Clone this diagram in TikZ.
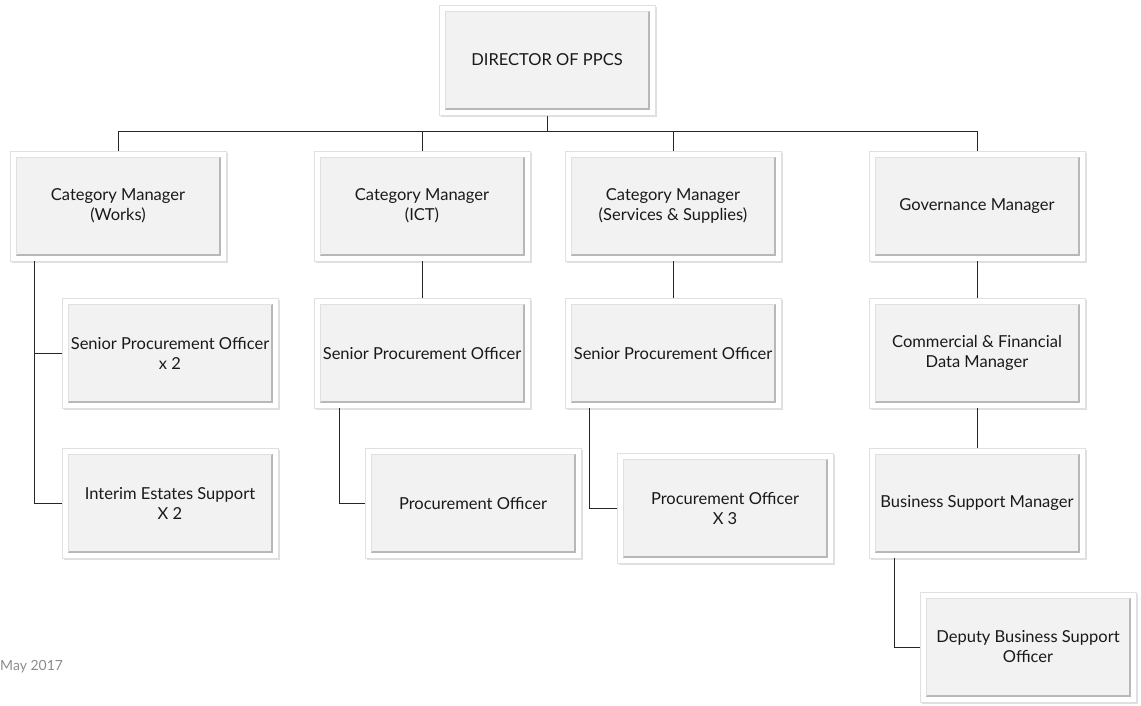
\documentclass[tikz,border=0pt]{standalone}
\usepackage{fontspec}
\setmainfont{Lato}
\usetikzlibrary{shadows}

\tikzset{
  post/.style={draw=black!12, fill=white, minimum width=216, minimum height=110,
    inner sep=2pt, align=center, text=black!90, font=\fontsize{16.5}{20}\selectfont,
    drop shadow={opacity=0.25, shadow xshift=1.5pt, shadow yshift=-2pt},
    path picture={
      \fill[black!5] ([shift={(6pt,6pt)}]path picture bounding box.south west)
        rectangle ([shift={(-6pt,-6pt)}]path picture bounding box.north east);
      \draw[black!28, line width=1.2pt] ([shift={(6pt,6pt)}]path picture bounding box.south west)
        -- ([shift={(-6pt,6pt)}]path picture bounding box.south east)
        -- ([shift={(-6pt,-6pt)}]path picture bounding box.north east);
      \draw[black!12] ([shift={(6pt,6pt)}]path picture bounding box.south west)
        -- ([shift={(6pt,-6pt)}]path picture bounding box.north west)
        -- ([shift={(-6pt,-6pt)}]path picture bounding box.north east);
    }},
  link/.style={draw=black!85, line width=1pt}
}

\begin{document}
\begin{tikzpicture}[x=1pt,y=-1pt]
\useasboundingbox (0,0) rectangle (1141,705);

% connectors first, boxes on top
\coordinate (bus) at (0,131);
\coordinate (dirstem) at (547,113);
\coordinate (worksstem) at (118,152);
\coordinate (ictstem) at (422,152);
\coordinate (servstem) at (673,152);
\coordinate (govstem) at (977,152);
\draw[link] (dirstem) -- (dirstem |- bus);
\draw[link] (worksstem) -- (worksstem |- bus) -- (govstem |- bus) -- (govstem);
\draw[link] (ictstem) -- (ictstem |- bus);
\draw[link] (servstem) -- (servstem |- bus);

% top
\node[post] (dir) at (547,60) {DIRECTOR OF PPCS};

% category level
\node[post] (works) at (118,206) {Category Manager\\(Works)};
\node[post] (ict) at (422,206) {Category Manager\\(ICT)};
\node[post] (serv) at (673,206) {Category Manager\\(Services \& Supplies)};
\node[post] (gov) at (977,206) {Governance Manager};

% works team
\node[post] (wspo) at (170,353) {Senior Procurement Officer\\x 2};
\node[post] (wint) at (170,503) {Interim Estates Support\\X 2};

% ict team
\node[post] (ispo) at (422,353) {Senior Procurement Officer};
\node[post] (ipo) at (473,503) {Procurement Officer};

% services team
\node[post] (sspo) at (673,353) {Senior Procurement Officer};
\node[post] (spo) at (725,508) {Procurement Officer\\X 3};

% governance team
\node[post] (gcom) at (977,353) {Commercial \& Financial\\Data Manager};
\node[post] (gbsm) at (977,503) {Business Support Manager};
\node[post] (gdep) at (1028,647) {Deputy Business Support\\Officer};

\node[anchor=west, inner sep=0pt, text=black!45, font=\fontsize{14}{16}\selectfont] (date) at (0,667) {May 2017};

% team links
\draw[link] ([xshift=25]works.south west) |- (wspo.west);
\draw[link] ([xshift=25]works.south west) |- (wint.west);

\draw[link] (ict.south) -- (ispo.north);
\draw[link] ([xshift=26]ispo.south west) |- (ipo.west);

\draw[link] (serv.south) -- (sspo.north);
\draw[link] ([xshift=25]sspo.south west) |- (spo.west);

\draw[link] (gov.south) -- (gcom.north);
\draw[link] (gcom.south) -- (gbsm.north);
\draw[link] ([xshift=26]gbsm.south west) |- (gdep.west);
\end{tikzpicture}
\end{document}
